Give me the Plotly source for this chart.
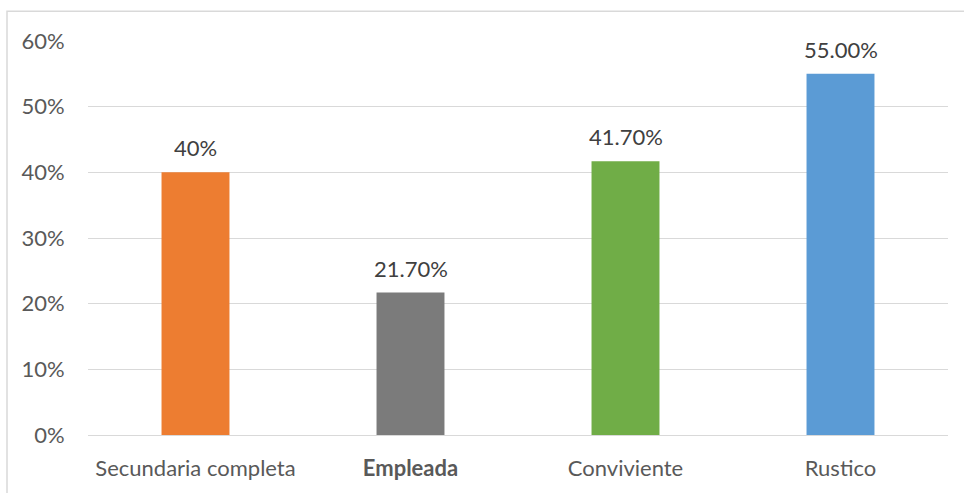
import plotly.graph_objects as go

categories = ["Secundaria completa", "Empleada", "Conviviente", "Rustico"]
tick_labels = ["Secundaria completa", "<b>Empleada</b>", "Conviviente", "Rustico"]
values = [0.40, 0.217, 0.417, 0.55]
value_labels = ["40%", "21.70%", "41.70%", "55.00%"]
colors = ["#ED7D31", "#7B7B7B", "#70AD47", "#5B9BD5"]
y_ticks = [0, 0.1, 0.2, 0.3, 0.4, 0.5, 0.6]
y_tick_labels = ["0%", "10%", "20%", "30%", "40%", "50%", "60%"]

FONT = "Lato"
FS = 22
W, H = 964, 493
L, R, T, B = 88, 16, 41, 56

fig = go.Figure(go.Bar(
    x=categories, y=values, marker_color=colors, width=0.316,
    marker_line_width=0, hoverinfo="x+y",
))

for c, v, t in zip(categories, values, value_labels):
    fig.add_annotation(x=c, y=v, text=t, showarrow=False, yanchor="bottom",
                       yshift=9, font=dict(family=FONT, size=FS, color="#404040"))

pw, ph = W - L - R, H - T - B
fig.add_shape(type="rect", xref="paper", yref="paper",
              x0=(7 - L) / pw, x1=(980 - L) / pw,
              y0=-(510 - T - ph) / ph, y1=1 + (T - 11) / ph,
              line=dict(color="#D9D9D9", width=1.5), layer="below")

fig.update_layout(
    width=W, height=H, margin=dict(l=L, r=R, t=T, b=B),
    plot_bgcolor="white", paper_bgcolor="white", showlegend=False,
    font=dict(family=FONT, size=FS, color="#595959"),
    xaxis=dict(tickmode="array", tickvals=categories, ticktext=tick_labels,
               showgrid=False, showline=False, ticks="outside", ticklen=14,
               tickcolor="rgba(0,0,0,0)", tickfont=dict(size=FS, color="#595959")),
    yaxis=dict(range=[0, 0.6], tickvals=y_ticks, ticktext=y_tick_labels,
               showgrid=True, gridcolor="#D9D9D9", gridwidth=1, zeroline=True,
               zerolinecolor="#D9D9D9", zerolinewidth=1, showline=False,
               ticks="outside", ticklen=18, tickcolor="rgba(0,0,0,0)",
               tickfont=dict(size=FS, color="#595959")),
)

fig.write_html("out.html", config={"displayModeBar": False},
               post_script="document.body.style.margin='0';document.body.style.overflow='hidden';")
